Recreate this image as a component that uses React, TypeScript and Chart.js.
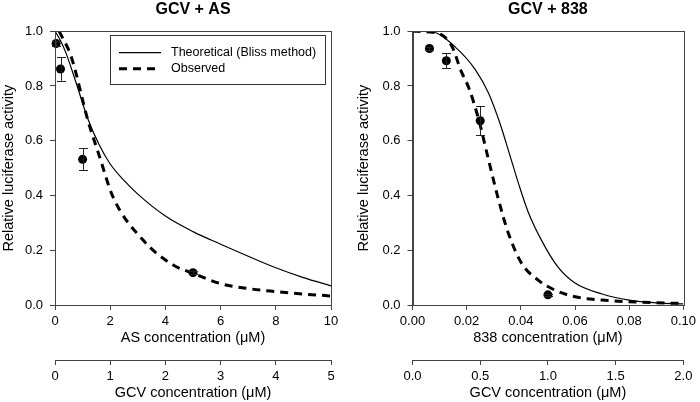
import React, { useEffect, useRef } from 'react';
import { Chart, registerables } from 'chart.js';

Chart.register(...registerables);

const FONT = "'Liberation Sans', Arial, Helvetica, sans-serif";

// ---------- GCV + AS ----------
const asTheoX = [0, 0.2, 0.4, 0.77, 1.19, 1.6, 2, 2.5, 3, 4, 5, 6, 7, 8, 9, 10];
const asTheoY = [1.0, 0.965, 0.92, 0.81, 0.68, 0.585, 0.515, 0.455, 0.405, 0.325, 0.268, 0.222, 0.178, 0.136, 0.1, 0.07];
const asObsX = [0.15, 0.59, 1.19, 1.62, 2.1, 3.19, 4.28, 5, 6, 7, 8, 9, 10];
const asObsY = [1.0, 0.906, 0.675, 0.54, 0.395, 0.237, 0.146, 0.116, 0.078, 0.06, 0.049, 0.04, 0.033];
const asPtX = [0.04, 0.2, 1, 5];
const asPtY = [0.955, 0.862, 0.532, 0.118];
const asPtErr = [0.01, 0.043, 0.04, 0.005];
const asXTicks = [0, 2, 4, 6, 8, 10];
const asX2Ticks = [0, 1, 2, 3, 4, 5];

// ---------- GCV + 838 ----------
const t838X = [0, 0.0074, 0.016, 0.0233, 0.0281, 0.0324, 0.0354, 0.0391, 0.0427, 0.0476, 0.0536, 0.06, 0.07, 0.08, 0.09, 0.1];
const t838Y = [1.0, 0.997, 0.94, 0.858, 0.773, 0.66, 0.565, 0.445, 0.34, 0.237, 0.14, 0.08, 0.04, 0.018, 0.008, 0.004];
const o838X = [0, 0.005, 0.011, 0.0147, 0.0178, 0.0209, 0.0245, 0.0281, 0.0318, 0.0354, 0.0403, 0.0464, 0.0524, 0.06, 0.07, 0.08, 0.09, 0.1];
const o838Y = [1.0, 0.998, 0.985, 0.942, 0.858, 0.79, 0.675, 0.529, 0.383, 0.262, 0.152, 0.091, 0.055, 0.03, 0.018, 0.012, 0.008, 0.006];
const p838X = [0.00625, 0.0125, 0.025, 0.05];
const p838Y = [0.937, 0.892, 0.673, 0.037];
const p838Err = [0.006, 0.027, 0.052, 0.004];
const x838Ticks = [0, 0.02, 0.04, 0.06, 0.08, 0.1];
const x2838Ticks = [0, 0.5, 1.0, 1.5, 2.0];

const yTicks = [0, 0.2, 0.4, 0.6, 0.8, 1.0];

const seriesLabels = ['Theoretical (Bliss method)', 'Observed'];

type PanelCfg = {
  left: number;
  width: number;
  padLeft: number;
  padRight: number;
  yWidth: number;
  title: string;
  xTitle: string;
  x2Title: string;
  xMax: number;
  x2Max: number;
  xTicks: number[];
  x2Ticks: number[];
  xDec: number;
  x2Dec: number;
  theoX: number[];
  theoY: number[];
  obsX: number[];
  obsY: number[];
  ptX: number[];
  ptY: number[];
  ptErr: number[];
  legend: boolean;
};

const zip = (xs: number[], ys: number[]) => xs.map((x, i) => ({ x, y: ys[i] }));

function Panel({ cfg }: { cfg: PanelCfg }) {
  const ref = useRef<HTMLCanvasElement | null>(null);

  useEffect(() => {
    if (!ref.current) return;

    const framePlugin = {
      id: 'frame',
      afterDatasetsDraw(chart: any) {
        const { ctx, chartArea: a } = chart;
        ctx.save();
        ctx.strokeStyle = '#444';
        ctx.lineWidth = 1;
        ctx.strokeRect(Math.round(a.left) + 0.5, Math.round(a.top) + 0.5, Math.round(a.right - a.left), Math.round(a.bottom - a.top));
        ctx.restore();
      },
    };

    const errPlugin = {
      id: 'errbars',
      afterDatasetsDraw(chart: any) {
        const { ctx } = chart;
        const xs = chart.scales.x;
        const ys = chart.scales.y;
        ctx.save();
        ctx.strokeStyle = '#222';
        ctx.lineWidth = 1;
        cfg.ptX.forEach((xv, i) => {
          const px = Math.round(xs.getPixelForValue(xv)) + 0.5;
          const top = ys.getPixelForValue(cfg.ptY[i] + cfg.ptErr[i]);
          const bot = ys.getPixelForValue(cfg.ptY[i] - cfg.ptErr[i]);
          ctx.beginPath();
          ctx.moveTo(px, top);
          ctx.lineTo(px, bot);
          ctx.moveTo(px - 4.5, Math.round(top) + 0.5);
          ctx.lineTo(px + 4.5, Math.round(top) + 0.5);
          ctx.moveTo(px - 4.5, Math.round(bot) + 0.5);
          ctx.lineTo(px + 4.5, Math.round(bot) + 0.5);
          ctx.stroke();
        });
        ctx.restore();
      },
    };

    const legendPlugin = {
      id: 'boxLegend',
      afterDraw(chart: any) {
        if (!cfg.legend) return;
        const { ctx, chartArea: a } = chart;
        const bx = a.left + 55;
        const by = a.top + 4;
        const bw = 215;
        const bh = 49;
        ctx.save();
        ctx.fillStyle = '#fff';
        ctx.fillRect(bx, by, bw, bh);
        ctx.strokeStyle = '#333';
        ctx.lineWidth = 1;
        ctx.strokeRect(Math.round(bx) + 0.5, Math.round(by) + 0.5, bw, bh);
        [0, 1].forEach((di, r) => {
          const ds = chart.data.datasets[di];
          const y = by + 17.5 + r * 16;
          ctx.beginPath();
          ctx.strokeStyle = '#000';
          ctx.lineWidth = ds.borderWidth;
          ctx.setLineDash(ds.borderDash || []);
          ctx.moveTo(bx + 9, y);
          ctx.lineTo(bx + 51, y);
          ctx.stroke();
          ctx.setLineDash([]);
          ctx.fillStyle = '#000';
          ctx.font = `12.5px ${FONT}`;
          ctx.textBaseline = 'middle';
          ctx.textAlign = 'left';
          ctx.fillText(ds.label, bx + 61, y);
        });
        ctx.restore();
      },
    };

    const tickFont = { family: FONT, size: 13 };
    const titleFont = { family: FONT, size: 14.5 };

    const xAxis = (max: number, ticks: number[], dec: number, title: string, weight: number, height: number, padBottom: number) => ({
      type: 'linear' as const,
      position: 'bottom' as const,
      weight,
      min: 0,
      max,
      afterBuildTicks: (s: any) => {
        s.ticks = ticks.map((v) => ({ value: v }));
      },
      afterFit: (s: any) => {
        s.height = height;
      },
      ticks: {
        font: tickFont,
        color: '#000',
        padding: 4,
        maxRotation: 0,
        autoSkip: false,
        callback: (v: any) => Number(v).toFixed(dec),
      },
      grid: { display: true, drawOnChartArea: false, drawTicks: true, tickLength: 5, color: '#444', lineWidth: 1 },
      border: { display: true, color: '#444', width: 1 },
      title: { display: true, text: title, font: titleFont, color: '#000', padding: { top: 0, bottom: padBottom } },
    });

    const chart = new Chart(ref.current, {
      type: 'line',
      data: {
        datasets: [
          {
            label: seriesLabels[0],
            data: zip(cfg.theoX, cfg.theoY),
            borderColor: '#000',
            borderWidth: 1.2,
            pointRadius: 0,
            fill: false,
            cubicInterpolationMode: 'monotone',
          },
          {
            label: seriesLabels[1],
            data: zip(cfg.obsX, cfg.obsY),
            borderColor: '#000',
            borderWidth: 3,
            borderDash: [8, 6],
            pointRadius: 0,
            fill: false,
            cubicInterpolationMode: 'monotone',
          },
          {
            label: 'points',
            data: zip(cfg.ptX, cfg.ptY),
            showLine: false,
            pointRadius: 4.5,
            pointBackgroundColor: '#000',
            pointBorderColor: '#000',
            pointBorderWidth: 0,
            clip: false,
          },
        ] as any,
      },
      options: {
        animation: false,
        responsive: false,
        maintainAspectRatio: false,
        events: [],
        layout: { padding: { left: cfg.padLeft, right: cfg.padRight, top: 0, bottom: 0 } },
        plugins: {
          legend: { display: false },
          tooltip: { enabled: false },
          title: {
            display: true,
            text: cfg.title,
            fullSize: false,
            color: '#000',
            font: { family: FONT, size: 16, weight: 'bold' },
            padding: { top: 0, bottom: 12 },
          },
        },
        scales: {
          x: xAxis(cfg.xMax, cfg.xTicks, cfg.xDec, cfg.xTitle, 0, 55, 13.6),
          x2: xAxis(cfg.x2Max, cfg.x2Ticks, cfg.x2Dec, cfg.x2Title, 1, 42, 0),
          y: {
            type: 'linear',
            position: 'left',
            min: 0,
            max: 1,
            afterBuildTicks: (s: any) => {
              s.ticks = yTicks.map((v) => ({ value: v }));
            },
            afterFit: (s: any) => {
              s.width = cfg.yWidth;
            },
            ticks: {
              font: tickFont,
              color: '#000',
              padding: 7,
              callback: (v: any) => Number(v).toFixed(1),
            },
            grid: { display: true, drawOnChartArea: false, drawTicks: true, tickLength: 5, color: '#444' },
            border: { display: true, color: '#444' },
            title: { display: true, text: 'Relative luciferase activity', font: titleFont, color: '#000', padding: 0 },
          },
        },
      } as any,
      plugins: [framePlugin, errPlugin, legendPlugin],
    });

    return () => chart.destroy();
  }, [cfg]);

  return (
    <canvas
      ref={ref}
      width={cfg.width}
      height={402}
      style={{ position: 'absolute', left: cfg.left, top: 0, width: cfg.width, height: 402, display: 'block' }}
    />
  );
}

const leftCfg: PanelCfg = {
  left: 0,
  width: 345,
  padLeft: 0,
  padRight: 14,
  yWidth: 55,
  title: 'GCV + AS',
  xTitle: 'AS concentration (μM)',
  x2Title: 'GCV concentration (μM)',
  xMax: 10,
  x2Max: 5,
  xTicks: asXTicks,
  x2Ticks: asX2Ticks,
  xDec: 0,
  x2Dec: 0,
  theoX: asTheoX,
  theoY: asTheoY,
  obsX: asObsX,
  obsY: asObsY,
  ptX: asPtX,
  ptY: asPtY,
  ptErr: asPtErr,
  legend: true,
};

const rightCfg: PanelCfg = {
  left: 350,
  width: 350,
  padLeft: 5,
  padRight: 13,
  yWidth: 57.5,
  title: 'GCV + 838',
  xTitle: '838 concentration (μM)',
  x2Title: 'GCV concentration (μM)',
  xMax: 0.1,
  x2Max: 2,
  xTicks: x838Ticks,
  x2Ticks: x2838Ticks,
  xDec: 2,
  x2Dec: 1,
  theoX: t838X,
  theoY: t838Y,
  obsX: o838X,
  obsY: o838Y,
  ptX: p838X,
  ptY: p838Y,
  ptErr: p838Err,
  legend: false,
};

export default function App() {
  return (
    <div style={{ position: 'fixed', left: 0, top: 0, width: 700, height: 402, background: '#fff', overflow: 'hidden' }}>
      <Panel cfg={leftCfg} />
      <Panel cfg={rightCfg} />
    </div>
  );
}
